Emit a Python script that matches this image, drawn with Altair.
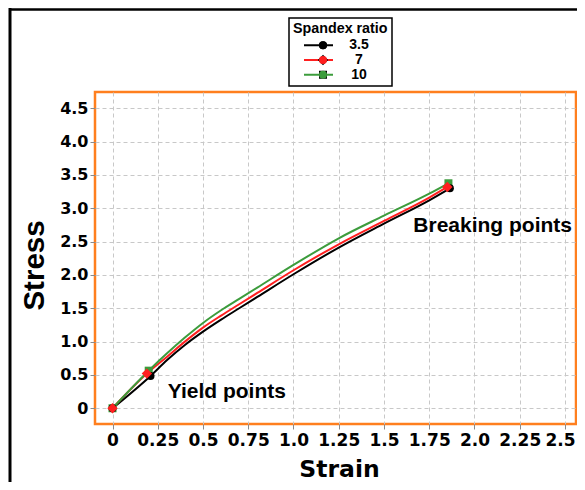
import altair as alt
import pandas as pd

# ---------------- data ----------------
SERIES = ["3.5", "7", "10"]
COLORS = ["#000000", "#ff1f1f", "#3c9c3c"]
# circle, diamond (slightly larger custom path), square
SHAPES = ["circle", "M0,-1.3L1.3,0L0,1.3L-1.3,0Z", "square"]
Z_ORDER = [2, 3, 1]

STRAIN_35 = [0, 0.21, 0.30, 0.40, 0.50, 0.60, 0.70, 0.80, 1.00, 1.25, 1.50, 1.75, 1.864]
STRESS_35 = [0, 0.485, 0.72, 0.95, 1.15, 1.33, 1.50, 1.67, 2.01, 2.41, 2.77, 3.12, 3.30]
STRAIN_7 = [0, 0.19, 0.30, 0.40, 0.50, 0.60, 0.70, 0.80, 1.00, 1.25, 1.50, 1.75, 1.85]
STRESS_7 = [0, 0.52, 0.77, 1.00, 1.21, 1.39, 1.56, 1.73, 2.07, 2.46, 2.81, 3.16, 3.32]
STRAIN_10 = [0, 0.20, 0.30, 0.40, 0.50, 0.60, 0.70, 0.80, 1.00, 1.25, 1.50, 1.75, 1.856]
STRESS_10 = [0, 0.564, 0.82, 1.06, 1.28, 1.47, 1.64, 1.81, 2.15, 2.55, 2.89, 3.22, 3.375]

# marked points: origin, yield point, breaking point
MARK_STRAIN_35 = [0, 0.21, 1.864]
MARK_STRESS_35 = [0, 0.485, 3.30]
MARK_STRAIN_7 = [0, 0.19, 1.85]
MARK_STRESS_7 = [0, 0.52, 3.32]
MARK_STRAIN_10 = [0, 0.20, 1.856]
MARK_STRESS_10 = [0, 0.564, 3.375]

X_TICKS = [0, 0.25, 0.5, 0.75, 1.0, 1.25, 1.5, 1.75, 2.0, 2.25, 2.5]
X_TICK_LABELS = ["0", "0.25", "0.5", "0.75", "1.0", "1.25", "1.5", "1.75", "2.0", "2.25", "2.5"]
Y_TICKS = [0, 0.5, 1.0, 1.5, 2.0, 2.5, 3.0, 3.5, 4.0, 4.5]
Y_TICK_LABELS = ["0", "0.5", "1.0", "1.5", "2.0", "2.5", "3.0", "3.5", "4.0", "4.5"]
X_DOMAIN = [-0.0967, 2.5608]
Y_DOMAIN = [-0.236, 4.744]

ANN_TEXT = ["Yield points", "Breaking points"]
ANN_X = [0.305, 1.662]
ANN_Y = [0.155, 2.645]

# ---------------- tables ----------------
curves = [(STRAIN_35, STRESS_35), (STRAIN_7, STRESS_7), (STRAIN_10, STRESS_10)]
marks = [(MARK_STRAIN_35, MARK_STRESS_35), (MARK_STRAIN_7, MARK_STRESS_7), (MARK_STRAIN_10, MARK_STRESS_10)]

rows = []
for s, (xs, ys) in zip(SERIES, curves):
    for i, (x, y) in enumerate(zip(xs, ys)):
        rows.append({"ratio": s, "strain": x, "stress": y, "idx": i})
line_df = pd.DataFrame(rows)

rows = []
for s, z, (xs, ys) in zip(SERIES, Z_ORDER, marks):
    for x, y in zip(xs, ys):
        rows.append({"ratio_m": s, "strain": x, "stress": y, "z": z})
mark_df = pd.DataFrame(rows)

ann_df = pd.DataFrame({"label": ANN_TEXT, "strain": ANN_X, "stress": ANN_Y})
one = pd.DataFrame({"k": [0]})


def label_expr(ticks, labels):
    expr = "''"
    for t, l in zip(reversed(ticks), reversed(labels)):
        expr = f"abs(datum.value - {t}) < 1e-6 ? '{l}' : ({expr})"
    return expr


W, H = 481, 332

xscale = alt.Scale(domain=X_DOMAIN, nice=False, zero=False)
yscale = alt.Scale(domain=Y_DOMAIN, nice=False, zero=False)

common_axis = dict(
    domain=False, grid=True, gridDash=[4, 3], gridColor="#c8c8c8", gridWidth=1,
    ticks=True, tickSize=5, tickColor="#8a8a8a", tickWidth=1, tickCount=40,
    labelFont="DejaVu Sans", labelFontWeight="bold", labelColor="black",
    labelOverlap=False, labelFlush=False,
    titleFontWeight="bold", titleColor="black", titleBaseline="alphabetic",
)

x_axis = alt.Axis(
    values=X_TICKS, labelExpr=label_expr(X_TICKS, X_TICK_LABELS), title="Strain",
    labelFontSize=17, labelPadding=3,
    labelOffset={"condition": {"test": "datum.value > 2.4", "value": -5}, "value": 0},
    titleFont="DejaVu Sans", titleFontSize=23.5, titleY=52, titleX=244,
    **common_axis,
)
y_axis = alt.Axis(
    values=Y_TICKS, labelExpr=label_expr(Y_TICKS, Y_TICK_LABELS), title="Stress",
    labelFontSize=16, labelPadding=2,
    titleFont="Liberation Sans", titleFontSize=29.5, titleAngle=270,
    titleAlign="center", titleX=-51.7, titleY=173,
    **common_axis,
)

legend_common = dict(
    orient="none", legendX=194, direction="vertical",
    labelFont="Liberation Sans", labelFontSize=14, labelFontWeight="bold",
    labelAlign="center", labelOffset=25,
    titleFont="Liberation Sans", titleFontSize=14.3, titleFontWeight="bold",
    titlePadding=3, padding=4, rowPadding=0.7, clipHeight=12,
)
legend_lines = alt.Legend(
    title="Spandex ratio", legendY=-74,
    symbolType="stroke", symbolSize=841, symbolStrokeWidth=2, symbolOffset=10,
    labelColor="black", titleColor="black", strokeColor="black", fillColor="white",
    **legend_common,
)
legend_marks = alt.Legend(
    title=None, legendY=-56.7, labelExpr="''",
    symbolSize=64, symbolStrokeWidth=0, symbolOffset=23,
    strokeColor="transparent", fillColor="transparent",
    **legend_common,
)

frame_left = alt.Chart(one).mark_rule(color="black", strokeWidth=3).encode(
    x=alt.value(-85), y=alt.value(-84), y2=alt.value(390))
frame_top = alt.Chart(one).mark_rule(color="black", strokeWidth=2.5).encode(
    x=alt.value(-86), x2=alt.value(482), y=alt.value(-82.5))

lines = alt.Chart(line_df).mark_line(strokeWidth=2, interpolate="monotone").encode(
    x=alt.X("strain:Q", scale=xscale, axis=x_axis),
    y=alt.Y("stress:Q", scale=yscale, axis=y_axis),
    color=alt.Color("ratio:N", scale=alt.Scale(domain=SERIES, range=COLORS), legend=legend_lines),
    order=alt.Order("idx:Q"),
)

points = alt.Chart(mark_df).mark_point(filled=True, size=64, opacity=1, strokeWidth=0).encode(
    x="strain:Q",
    y="stress:Q",
    fill=alt.Fill("ratio_m:N", sort=SERIES, scale=alt.Scale(range=COLORS), legend=legend_marks),
    shape=alt.Shape("ratio_m:N", sort=SERIES, scale=alt.Scale(range=SHAPES), legend=legend_marks),
    order=alt.Order("z:Q"),
)

texts = alt.Chart(ann_df).mark_text(
    font="Liberation Sans", fontSize=21, fontWeight="bold", align="left",
    baseline="alphabetic", color="black",
).encode(x="strain:Q", y="stress:Q", text="label:N")

chart = alt.layer(frame_left, frame_top, lines, points, texts).properties(
    width=W, height=H,
    padding={"left": 87, "top": 84, "right": 1, "bottom": 58},
    autosize=alt.AutoSizeParams(type="none"),
).configure_view(
    stroke="#ff7f1e", strokeWidth=2.5, fill="white",
).configure_legend(
    strokeWidth=1.5,
)

chart.save("out.html", embed_options={"renderer": "svg", "actions": False})
